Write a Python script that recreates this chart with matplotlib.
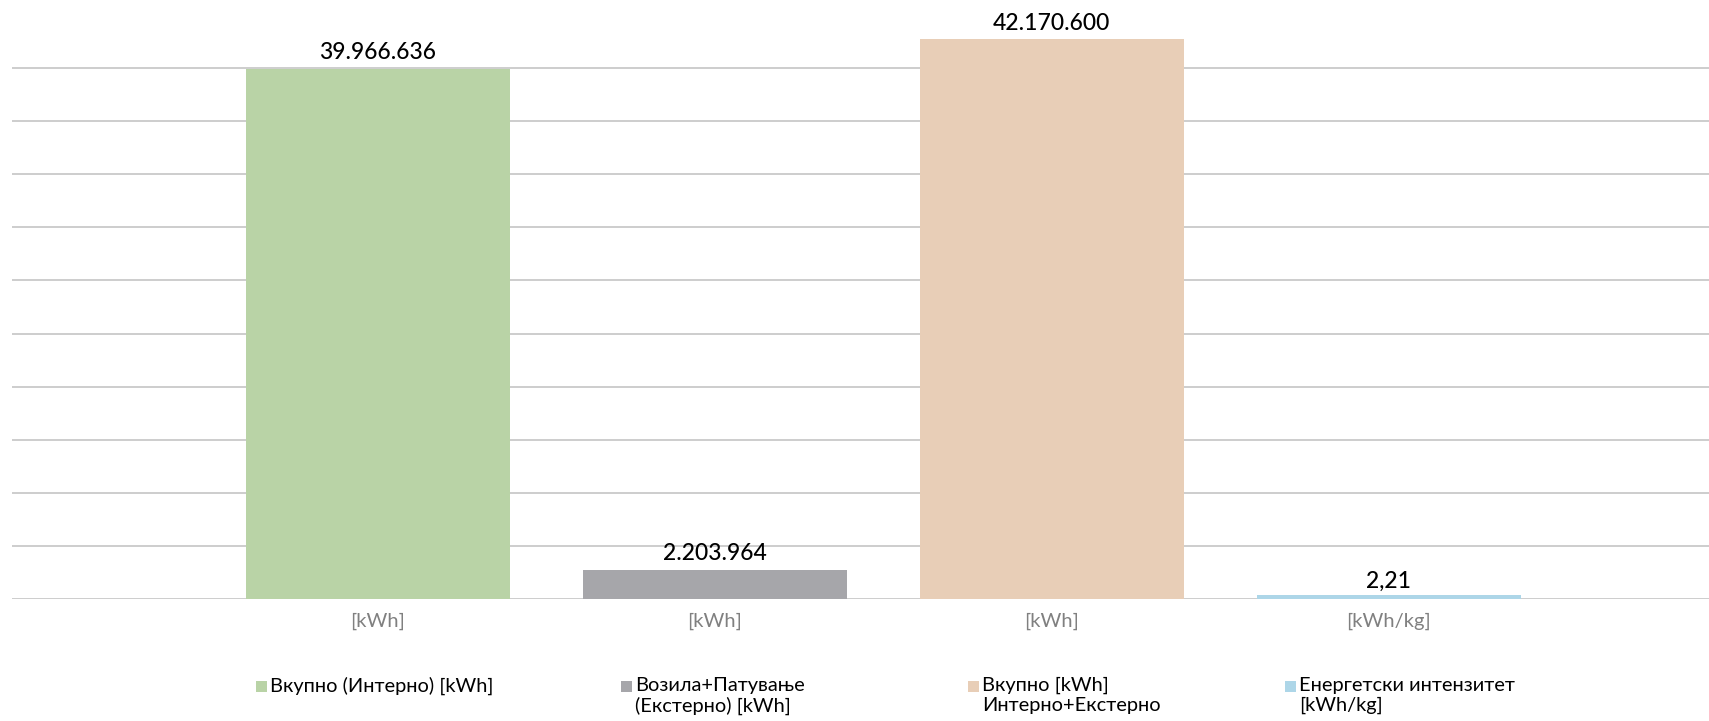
import matplotlib.pyplot as plt
from matplotlib.patches import Rectangle

plt.rcParams['font.family'] = ['Lato', 'DejaVu Sans']

# Податоци
kategorii = ['[kWh]', '[kWh]', '[kWh]', '[kWh/kg]']
serii = ['Вкупно (Интерно) [kWh]',
         'Возила+Патување\n(Екстерно) [kWh]',
         'Вкупно [kWh]\nИнтерно+Екстерно',
         'Енергетски интензитет\n[kWh/kg]']
vrednosti = [39966636, 2203964, 42170600]   # [kWh], примарна оска
intenzitet = 2.21                            # [kWh/kg], секундарна оска
boi = ['#B9D3A6', '#A6A6AA', '#E8CEB7', '#ADD6E8']


def format_mk(v, dec=0):
    s = f"{v:,.{dec}f}"
    return s.replace(',', 'X').replace('.', ',').replace('X', '.')


fig = plt.figure(figsize=(17.09, 7.21), dpi=100)
ax = fig.add_axes([0.007, 0.1692, 0.993, 0.810])
ax2 = ax.twinx()

x = list(range(len(kategorii)))
sirina = 0.783

bars = ax.bar(x[:3], vrednosti, width=sirina, color=boi[:3], zorder=3)
bar4 = ax2.bar(x[3], intenzitet, width=sirina, color=boi[3], zorder=3)

for b, v in zip(bars, vrednosti):
    ax.annotate(format_mk(v), (b.get_x() + b.get_width() / 2, b.get_height()),
                xytext=(0, 7), textcoords='offset points',
                ha='center', va='baseline', fontsize=16.5, color='#000000',
                fontweight='medium')
b = bar4[0]
ax2.annotate(format_mk(intenzitet, 2), (b.get_x() + b.get_width() / 2, b.get_height()),
             xytext=(0, 5), textcoords='offset points',
             ha='center', va='baseline', fontsize=16.5, color='#000000',
             fontweight='medium')

ax.set_xlim(-1.086, 3.95)
ax.set_ylim(0, 44000000)
ax2.set_ylim(0, 290)
ax.set_yticks(range(0, 40000001, 4000000))
ax.yaxis.grid(True, color='#C0C0C0', linewidth=1.1, zorder=0)
ax.set_axisbelow(True)
ax.tick_params(axis='y', length=0, labelleft=False)
ax2.set_yticks([])
ax.set_xticks(x)
ax.set_xticklabels(kategorii, fontsize=14.5, color='#808080')
ax.tick_params(axis='x', length=0, pad=10)
for a in (ax, ax2):
    for s in a.spines.values():
        s.set_visible(False)
    a.patch.set_visible(False)

# Легенда
leg_x = [256, 621, 968, 1285]
W, H = 1709, 721
for lx, ime, c in zip(leg_x, serii, boi):
    fig.add_artist(Rectangle((lx / W, 1 - 692 / H), 11 / W, 11 / H,
                             transform=fig.transFigure, color=c, lw=0))
    fig.text((lx + 14) / W, 1 - 677 / H, ime, fontsize=14.4, color='#000000',
             ha='left', va='top', linespacing=1.2)

fig.savefig('out.png', dpi=100)
